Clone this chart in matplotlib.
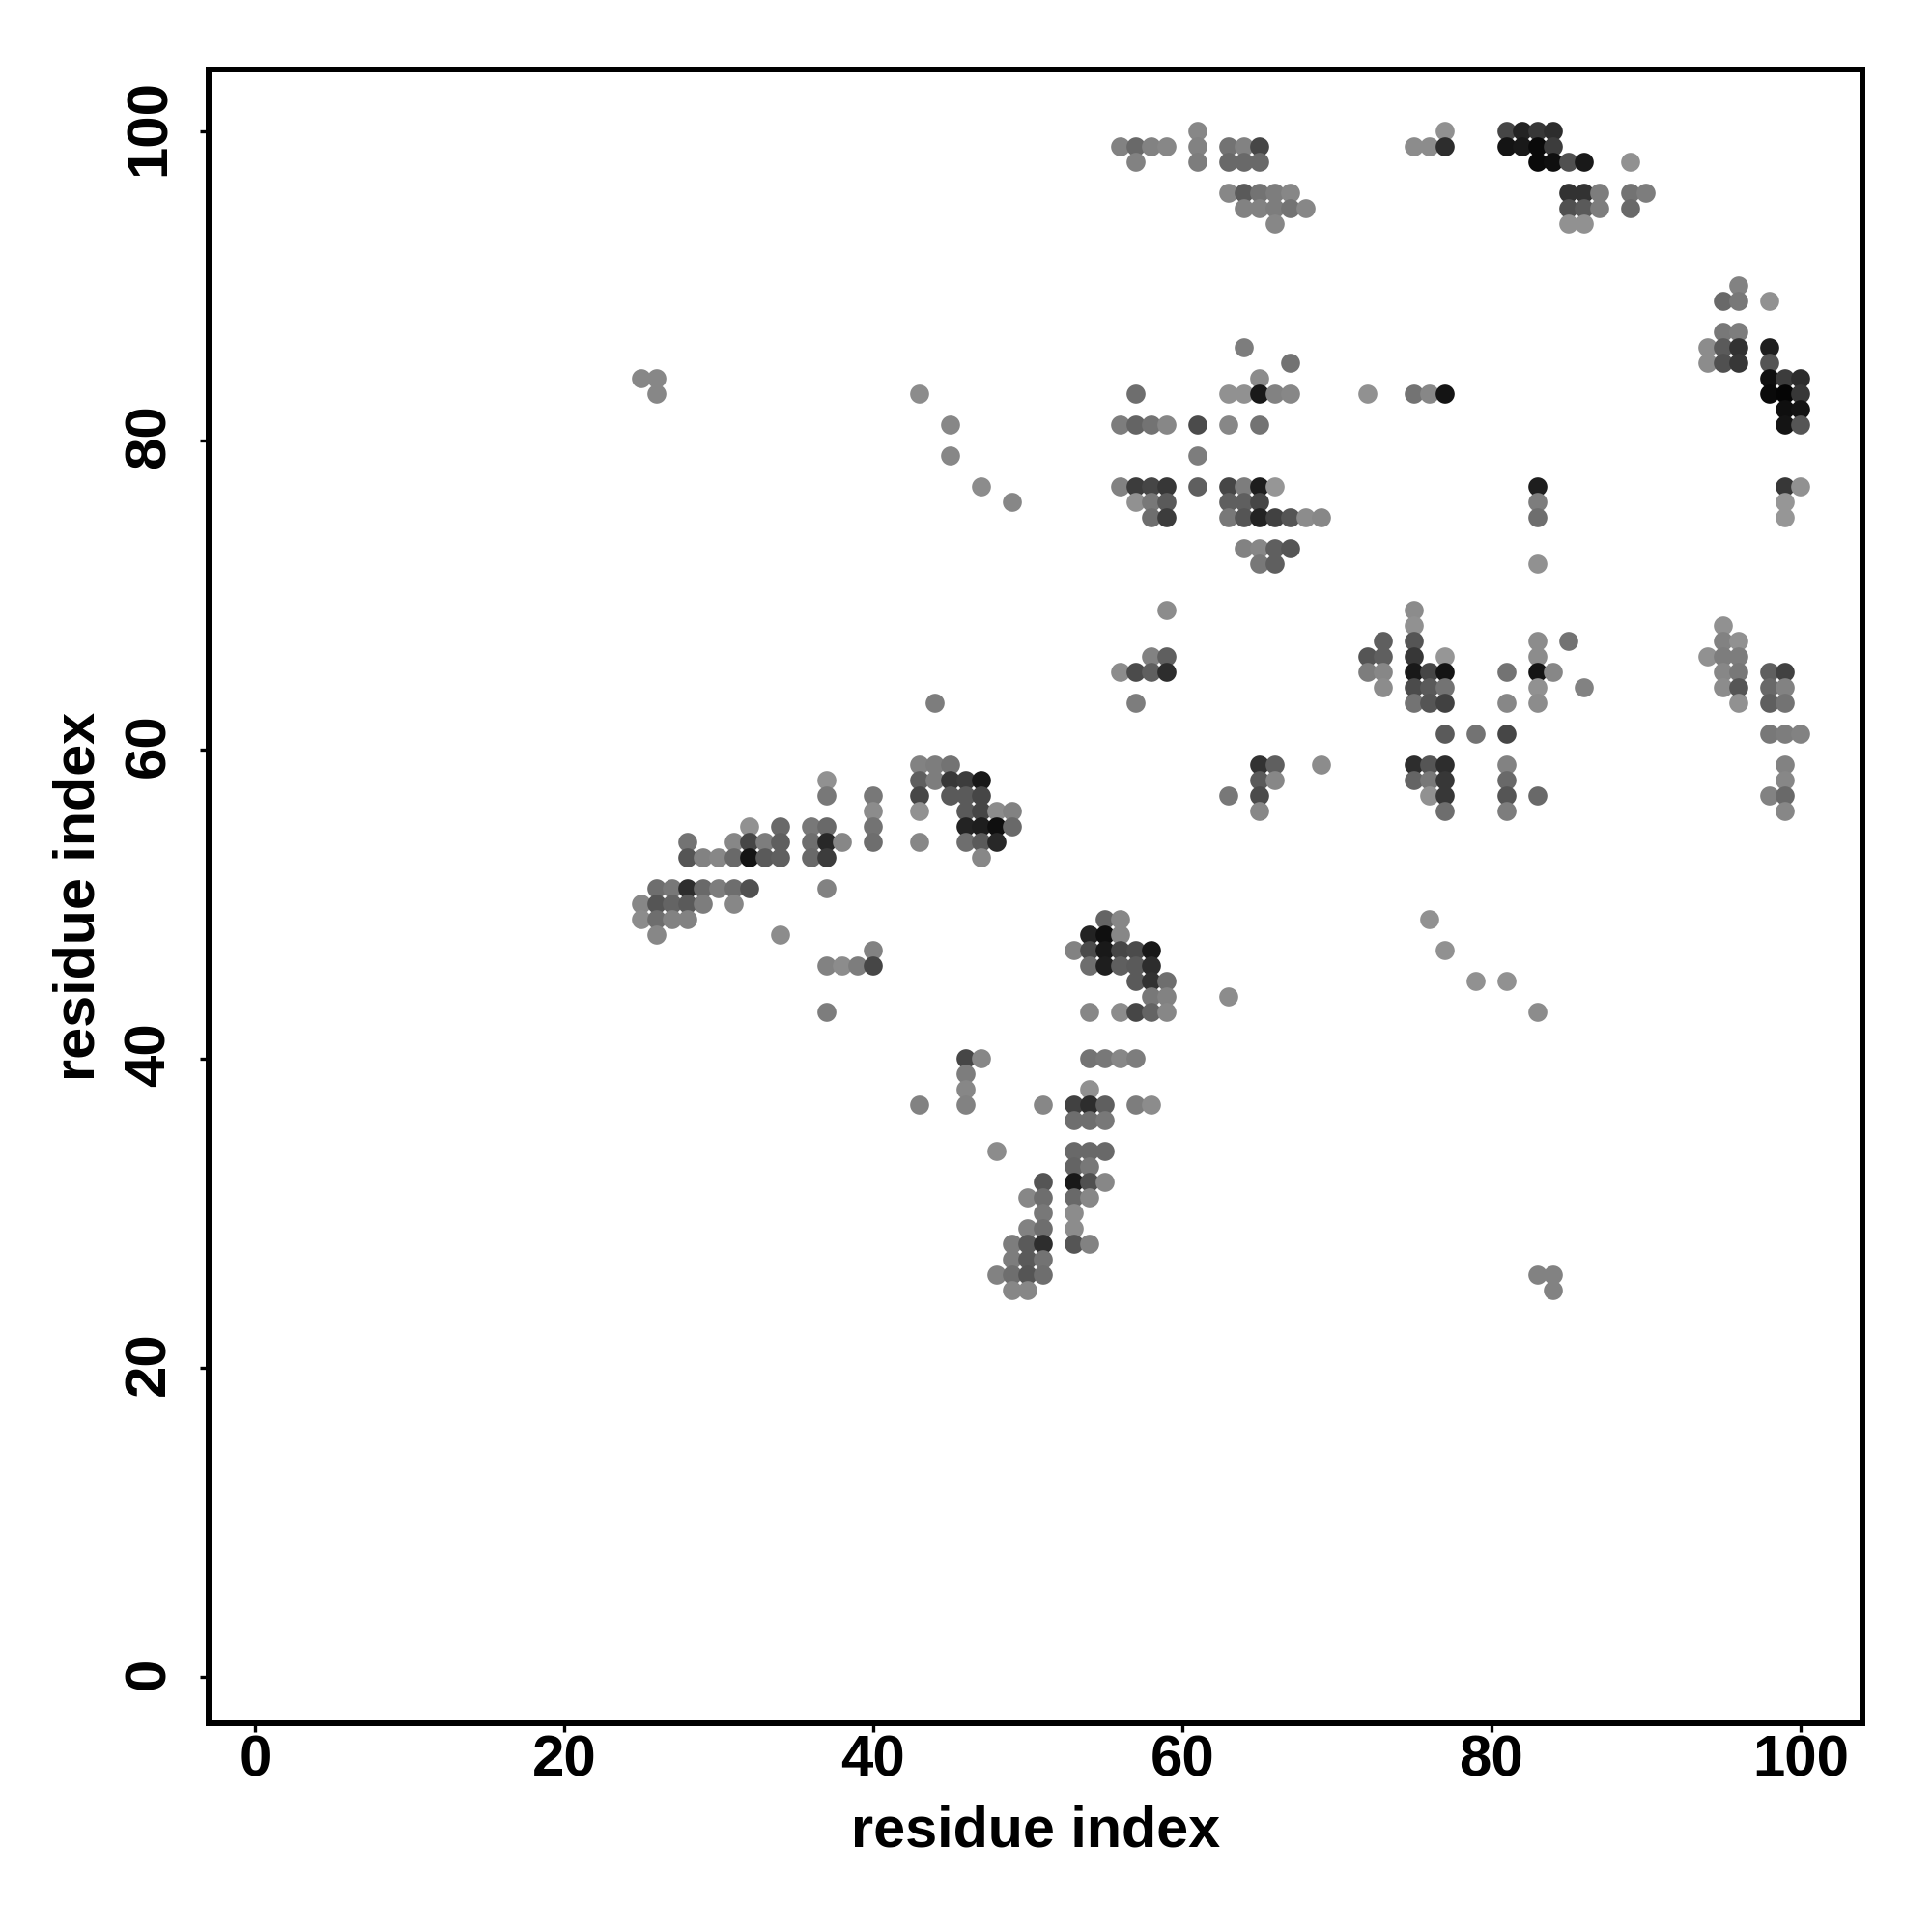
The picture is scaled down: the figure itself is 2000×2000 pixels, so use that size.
import matplotlib
matplotlib.use("Agg")
import matplotlib.pyplot as plt
from matplotlib.transforms import ScaledTranslation
import numpy as np

plt.rcParams["font.family"] = ["Liberation Sans", "DejaVu Sans"]

# one entry per row of the contact map: y index, x indices, grey level (0-255)
row_y = [100, 99, 98, 96, 95, 94, 90, 89, 87, 86, 85, 84, 83, 82, 81, 79, 77, 76, 75, 73, 72,
         69, 68, 67, 66, 65, 64, 63, 61, 59, 58, 57, 56, 55, 54, 53, 51, 50, 49, 48, 47, 46,
         45, 44, 43, 40, 39, 38, 37, 36, 34, 33, 32, 31, 30, 29, 28, 27, 26, 25]
row_x = [
    [61, 77, 81, 82, 83, 84],
    [56, 57, 58, 59, 61, 63, 64, 65, 75, 76, 77, 81, 82, 83, 84],
    [57, 61, 63, 64, 65, 83, 84, 85, 86, 89],
    [63, 64, 65, 66, 67, 85, 86, 87, 89, 90],
    [64, 65, 66, 67, 68, 85, 86, 87, 89],
    [66, 85, 86],
    [96],
    [95, 96, 98],
    [95, 96],
    [64, 94, 95, 96, 98],
    [67, 94, 95, 96, 98],
    [25, 26, 65, 98, 99, 100],
    [26, 43, 57, 63, 64, 65, 66, 67, 72, 75, 76, 77, 98, 99, 100],
    [99, 100],
    [45, 56, 57, 58, 59, 61, 63, 65, 99, 100],
    [45, 61],
    [47, 56, 57, 58, 59, 61, 63, 64, 65, 66, 83, 99, 100],
    [49, 57, 58, 59, 63, 64, 65, 83, 99],
    [58, 59, 63, 64, 65, 66, 67, 68, 69, 83, 99],
    [64, 65, 66, 67],
    [65, 66, 83],
    [59, 75],
    [75, 95],
    [73, 75, 83, 85, 95, 96],
    [58, 59, 72, 73, 75, 77, 83, 94, 95, 96],
    [56, 57, 58, 59, 72, 73, 75, 76, 77, 81, 83, 84, 95, 96, 98, 99],
    [73, 75, 76, 77, 83, 86, 95, 96, 98, 99],
    [44, 57, 75, 76, 77, 81, 83, 96, 98, 99],
    [77, 79, 81, 98, 99, 100],
    [43, 44, 45, 65, 66, 69, 75, 76, 77, 81, 99],
    [37, 43, 44, 45, 46, 47, 65, 66, 75, 76, 77, 81, 99],
    [37, 40, 43, 45, 46, 47, 63, 65, 76, 77, 81, 83, 98, 99],
    [40, 43, 46, 47, 48, 49, 65, 77, 81, 99],
    [32, 34, 36, 37, 40, 46, 47, 48, 49],
    [28, 31, 32, 33, 34, 36, 37, 38, 40, 43, 46, 47, 48],
    [28, 29, 30, 31, 32, 33, 34, 36, 37, 47],
    [26, 27, 28, 29, 30, 31, 32, 37],
    [25, 26, 27, 28, 29, 31],
    [25, 26, 27, 28, 55, 56, 76],
    [26, 34, 54, 55, 56],
    [40, 53, 54, 55, 56, 57, 58, 77],
    [37, 38, 39, 40, 54, 55, 56, 57, 58],
    [57, 58, 59, 79, 81],
    [58, 59, 63],
    [37, 54, 56, 57, 58, 59, 83],
    [46, 47, 54, 55, 56, 57],
    [46],
    [46, 54],
    [43, 46, 51, 53, 54, 55, 57, 58],
    [53, 54, 55],
    [48, 53, 54, 55],
    [53, 54],
    [51, 53, 54, 55],
    [50, 51, 53, 54],
    [51, 53],
    [50, 51, 53],
    [49, 50, 51, 53, 54],
    [49, 50, 51],
    [48, 49, 50, 51, 83, 84],
    [49, 50, 84],
]
row_gray = [
    [135, 145, 70, 35, 55, 45],
    [130, 105, 130, 135, 130, 115, 130, 70, 140, 140, 45, 20, 25, 10, 60],
    [130, 125, 105, 105, 105, 10, 15, 80, 25, 145],
    [135, 90, 115, 125, 135, 50, 50, 125, 115, 125],
    [130, 130, 125, 115, 135, 80, 90, 125, 105],
    [135, 145, 145],
    [130],
    [105, 120, 145],
    [120, 125],
    [125, 140, 90, 50, 30],
    [115, 140, 80, 55, 85],
    [135, 135, 140, 15, 60, 45],
    [135, 140, 110, 145, 145, 25, 130, 135, 145, 115, 135, 20, 10, 5, 55],
    [15, 20],
    [135, 125, 100, 115, 135, 75, 135, 115, 20, 85],
    [135, 125],
    [140, 130, 60, 70, 55, 95, 70, 125, 30, 150, 30, 55, 145],
    [135, 145, 120, 90, 95, 95, 70, 125, 150],
    [110, 60, 120, 85, 35, 65, 85, 140, 135, 110, 150],
    [130, 135, 95, 85],
    [120, 95, 145],
    [140, 140],
    [145, 145],
    [95, 85, 140, 115, 130, 145],
    [130, 95, 85, 95, 55, 150, 140, 145, 125, 125],
    [140, 75, 95, 45, 125, 135, 25, 70, 20, 115, 20, 135, 135, 120, 95, 65],
    [140, 75, 90, 115, 145, 130, 140, 85, 105, 130],
    [125, 125, 115, 85, 65, 135, 140, 145, 95, 115],
    [90, 115, 70, 120, 125, 130],
    [130, 125, 115, 50, 95, 140, 45, 85, 45, 130, 130],
    [145, 95, 125, 55, 60, 25, 90, 135, 100, 120, 55, 105, 135],
    [120, 120, 70, 90, 90, 70, 120, 75, 145, 55, 85, 105, 130, 105],
    [140, 145, 90, 70, 140, 130, 135, 110, 125, 135],
    [145, 105, 120, 105, 115, 35, 30, 15, 105],
    [115, 135, 70, 125, 95, 110, 40, 135, 110, 135, 110, 90, 40],
    [85, 130, 135, 105, 20, 90, 95, 105, 60, 135],
    [110, 120, 45, 105, 125, 110, 80, 130],
    [135, 85, 100, 90, 125, 135],
    [140, 110, 130, 130, 100, 135, 145],
    [135, 140, 35, 15, 135],
    [130, 130, 75, 25, 70, 75, 25, 145],
    [130, 140, 125, 70, 110, 30, 95, 90, 45],
    [90, 50, 110, 145, 145],
    [120, 130, 140],
    [125, 135, 140, 70, 100, 135, 140],
    [70, 135, 115, 120, 135, 125],
    [125],
    [135, 145],
    [130, 130, 135, 65, 45, 95, 125, 140],
    [110, 110, 120],
    [140, 105, 105, 105],
    [100, 120],
    [85, 25, 80, 135],
    [135, 110, 105, 135],
    [120, 140],
    [130, 110, 140],
    [125, 90, 45, 85, 130],
    [125, 90, 115],
    [130, 110, 85, 110, 130, 130],
    [135, 135, 130],
]
x_ticks = [0, 20, 40, 60, 80, 100]
y_ticks = [0, 20, 40, 60, 80, 100]

xs = np.concatenate(row_x)
ys = np.concatenate([[y] * len(x) for y, x in zip(row_y, row_x)])
greys = np.concatenate(row_gray) / 255

fig = plt.figure(figsize=(10, 10), dpi=200)
ax = fig.add_axes([0.108, 0.108, 0.856, 0.856])
ax.scatter(xs, ys, s=50, c=np.column_stack([greys, greys, greys]), linewidths=0, zorder=3)

ax.set_xlim(-3, 104)
ax.set_ylim(-3, 104)
ax.set_xticks(x_ticks)
ax.set_yticks(y_ticks)
ax.tick_params(length=3.1, width=1.2, labelsize=21.6)
ax.tick_params(axis="x", pad=1)
ax.tick_params(axis="y", pad=9)
for lab in ax.get_xticklabels():
    lab.set_fontweight("bold")
# rotated labels sit a few pixels low otherwise
nudge = ScaledTranslation(0, 4 / 200, fig.dpi_scale_trans)
for lab in ax.get_yticklabels():
    lab.set_fontweight("bold")
    lab.set_rotation(90)
    lab.set_verticalalignment("center")
    lab.set_transform(lab.get_transform() + nudge)
for sp in ax.spines.values():
    sp.set_linewidth(2.16)

ax.set_xlabel("residue index", fontsize=21.4, fontweight="bold", va="baseline")
ax.set_ylabel("residue index", fontsize=21.4, fontweight="bold", va="baseline")
ax.xaxis.set_label_coords(0.5, -127 / 1712)
ax.yaxis.set_label_coords(-118 / 1712, 0.5)

fig.savefig("out.png", dpi=200)
